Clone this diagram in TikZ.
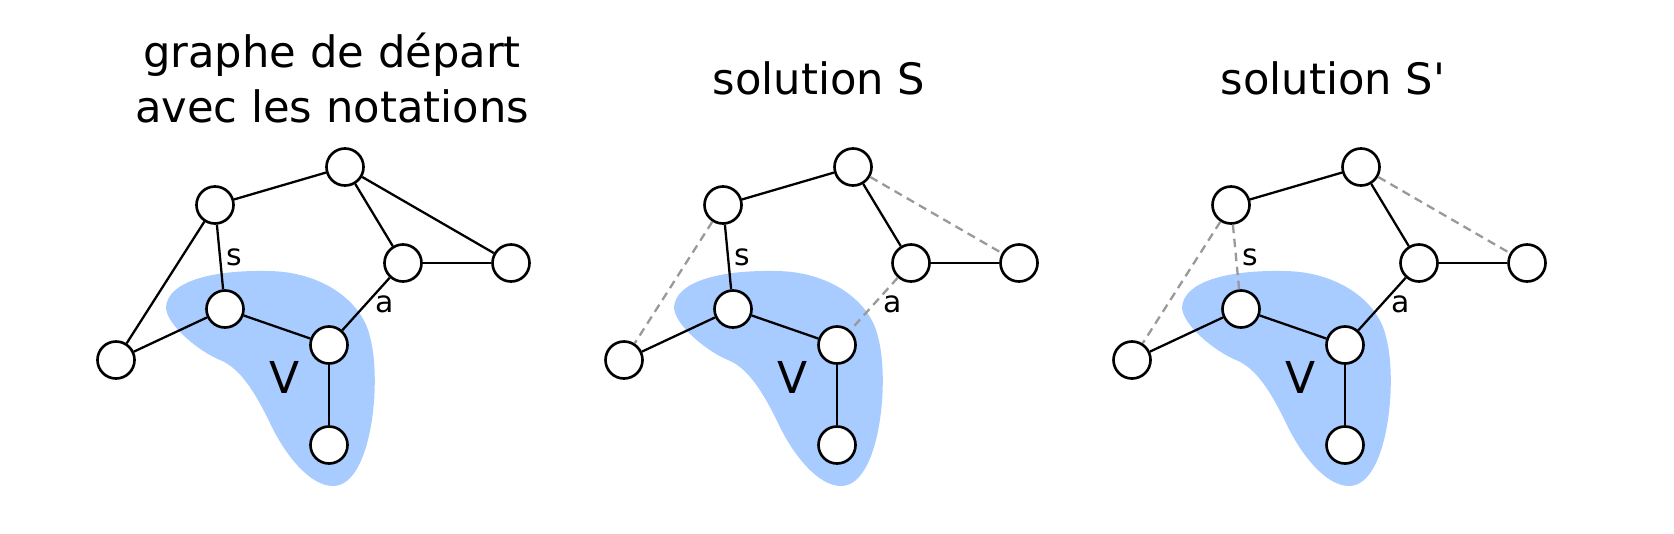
\documentclass[tikz,border=0pt]{standalone}
\usepackage{fontspec}
\setmainfont{DejaVu Sans}

\definecolor{bleuV}{RGB}{168,204,255}
\definecolor{grisT}{RGB}{153,153,153}

\tikzset{
	sommet/.style={circle, draw, fill=white, line width=0.75pt, minimum size=0.37cm, inner sep=0pt},
	arete/.style={line width=0.65pt},
	retiree/.style={grisT, line width=0.65pt, dash pattern=on 2.4pt off 1.6pt},
	lab/.style={font=\fontsize{8.5}{10}\selectfont, inner sep=1.5pt},
	titre/.style={font=\fontsize{12.3}{15.6}\selectfont, inner sep=0pt},
	ensemble/.style={fill=bleuV, draw=none}
}

\begin{document}
\begin{tikzpicture}[x=0.01cm, y=-0.01cm]

%Grid zum Arbeiten
%\draw[help lines] (0,0) grid[step=50] (1674,533);
\useasboundingbox (0,0) rectangle (1674,533);

%Titres
\node[titre, anchor=base] (t1a) at (332,67) {graphe de départ};
\node[titre, anchor=base] (t1b) at (332,122) {avec les notations};
\node[titre, anchor=base west] (t2) at (712,94) {solution S};
\node[titre, anchor=base west] (t3) at (1220,94) {solution S\textquotesingle};

%Graphe de depart
\begin{scope}
\fill[ensemble] (166,307) .. controls (168,282) and (210,270) .. (267,271) .. controls (320,271) and (362,300) .. (370,337) .. controls (382,380) and (372,486) .. (333,486) .. controls (310,486) and (285,455) .. (270,423) .. controls (255,392) and (240,368) .. (220,360) .. controls (200,352) and (166,325) .. cycle;
\node[font=\fontsize{12.5}{15}\selectfont] (v1) at (285,377) {V};

\node[sommet] (hg1) at (215,205) {};
\node[sommet] (ht1) at (345,167) {};
\node[sommet] (md1) at (403,263) {};
\node[sommet] (dr1) at (511,263) {};
\node[sommet] (vs1) at (225,309) {};
\node[sommet] (vc1) at (329,345) {};
\node[sommet] (vb1) at (329,445) {};
\node[sommet] (ga1) at (116,360) {};

\draw[arete] (hg1) -- (ht1);
\draw[arete] (hg1) -- (ga1);
\draw[arete] (hg1) -- node[lab, right] {s} (vs1);
\draw[arete] (ht1) -- (md1);
\draw[arete] (ht1) -- (dr1);
\draw[arete] (md1) -- (dr1);
\draw[arete] (md1) -- node[lab, right, inner sep=2.5pt] {a} (vc1);
\draw[arete] (vs1) -- (vc1);
\draw[arete] (vs1) -- (ga1);
\draw[arete] (vc1) -- (vb1);
\end{scope}

%Solution S
\begin{scope}[shift={(508,0)}]
\fill[ensemble] (166,307) .. controls (168,282) and (210,270) .. (267,271) .. controls (320,271) and (362,300) .. (370,337) .. controls (382,380) and (372,486) .. (333,486) .. controls (310,486) and (285,455) .. (270,423) .. controls (255,392) and (240,368) .. (220,360) .. controls (200,352) and (166,325) .. cycle;
\node[font=\fontsize{12.5}{15}\selectfont] (v2) at (285,377) {V};

\node[sommet] (hg2) at (215,205) {};
\node[sommet] (ht2) at (345,167) {};
\node[sommet] (md2) at (403,263) {};
\node[sommet] (dr2) at (511,263) {};
\node[sommet] (vs2) at (225,309) {};
\node[sommet] (vc2) at (329,345) {};
\node[sommet] (vb2) at (329,445) {};
\node[sommet] (ga2) at (116,360) {};

\draw[arete] (hg2) -- (ht2);
\draw[retiree] (hg2) -- (ga2);
\draw[arete] (hg2) -- node[lab, right] {s} (vs2);
\draw[arete] (ht2) -- (md2);
\draw[retiree] (ht2) -- (dr2);
\draw[arete] (md2) -- (dr2);
\draw[retiree] (md2) -- node[lab, right, inner sep=2.5pt, black] {a} (vc2);
\draw[arete] (vs2) -- (vc2);
\draw[arete] (vs2) -- (ga2);
\draw[arete] (vc2) -- (vb2);
\end{scope}

%Solution S'
\begin{scope}[shift={(1016,0)}]
\fill[ensemble] (166,307) .. controls (168,282) and (210,270) .. (267,271) .. controls (320,271) and (362,300) .. (370,337) .. controls (382,380) and (372,486) .. (333,486) .. controls (310,486) and (285,455) .. (270,423) .. controls (255,392) and (240,368) .. (220,360) .. controls (200,352) and (166,325) .. cycle;
\node[font=\fontsize{12.5}{15}\selectfont] (v3) at (285,377) {V};

\node[sommet] (hg3) at (215,205) {};
\node[sommet] (ht3) at (345,167) {};
\node[sommet] (md3) at (403,263) {};
\node[sommet] (dr3) at (511,263) {};
\node[sommet] (vs3) at (225,309) {};
\node[sommet] (vc3) at (329,345) {};
\node[sommet] (vb3) at (329,445) {};
\node[sommet] (ga3) at (116,360) {};

\draw[arete] (hg3) -- (ht3);
\draw[retiree] (hg3) -- (ga3);
\draw[retiree] (hg3) -- node[lab, right, black] {s} (vs3);
\draw[arete] (ht3) -- (md3);
\draw[retiree] (ht3) -- (dr3);
\draw[arete] (md3) -- (dr3);
\draw[arete] (md3) -- node[lab, right, inner sep=2.5pt] {a} (vc3);
\draw[arete] (vs3) -- (vc3);
\draw[arete] (vs3) -- (ga3);
\draw[arete] (vc3) -- (vb3);
\end{scope}

\end{tikzpicture}
\end{document}
